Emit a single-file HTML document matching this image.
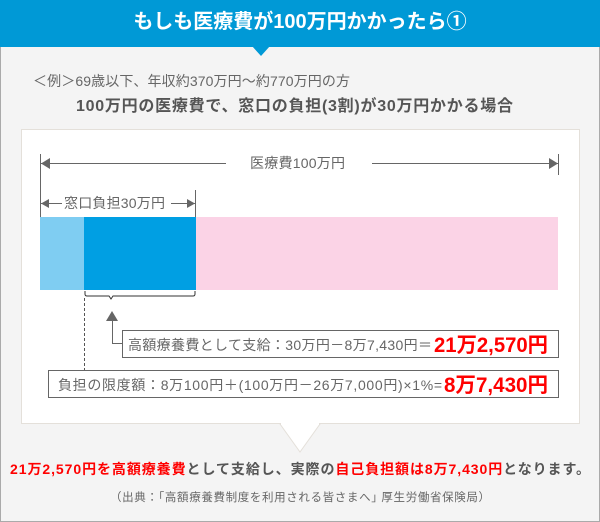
<!DOCTYPE html>
<html><head><meta charset="utf-8"><style>
body{margin:0;width:600px;height:522px;background:#f4f4f4;font-family:"Liberation Sans","Noto Sans CJK JP",sans-serif;position:relative;overflow:hidden}
.a{position:absolute;white-space:nowrap}
text{font-family:"Liberation Sans","Noto Sans CJK JP",sans-serif}
</style></head><body>
<div class="a" style="left:0;top:0;width:600px;height:522px;border:1px solid #aaa;border-top:none;box-sizing:border-box"></div>
<div class="a" style="left:0;top:0;width:600px;height:47px;background:#0099d6"></div>
<div class="a" style="left:252px;top:46px;width:0;height:0;border-left:9px solid transparent;border-right:9px solid transparent;border-top:10px solid #0099d6"></div>
<div class="a" style="left:0;top:8px;width:600px;text-align:center;color:#fff;font-weight:bold;font-size:20px;line-height:28px">もしも医療費が100万円かかったら①</div>
<svg class="a" style="left:0;top:0" width="600" height="522">
<text x="33" y="86" font-size="14" fill="#666" textLength="317" lengthAdjust="spacing">＜例＞69歳以下、年収約370万円～約770万円の方</text>
<text x="76" y="111" font-size="16" font-weight="bold" fill="#555" textLength="437" lengthAdjust="spacing">100万円の医療費で、窓口の負担(3割)が30万円かかる場合</text>
<rect x="21.5" y="129.5" width="558" height="294" fill="#fff" stroke="#e4e0da"/>
<polygon points="280,424 320,424 300,452" fill="#fff" stroke="#e4e0da"/>
<line x1="281" y1="424" x2="319" y2="424" stroke="#fff" stroke-width="2"/>
<g stroke="#666" fill="#666">
<line x1="40.5" y1="154" x2="40.5" y2="217"/>
<line x1="558.5" y1="154" x2="558.5" y2="175"/>
<line x1="40" y1="163.5" x2="226" y2="163.5"/>
<line x1="372" y1="163.5" x2="558" y2="163.5"/>
<polygon points="41,163.5 50,158 50,169" stroke="none"/>
<polygon points="558,163.5 549,158 549,169" stroke="none"/>
<line x1="195.5" y1="190" x2="195.5" y2="217"/>
<line x1="40" y1="203.5" x2="62" y2="203.5"/>
<line x1="171" y1="203.5" x2="195" y2="203.5"/>
<polygon points="41,203.5 49,199 49,208" stroke="none"/>
<polygon points="195,203.5 187,199 187,208" stroke="none"/>
</g>
<text x="250" y="168" font-size="14" fill="#666" textLength="95" lengthAdjust="spacing">医療費100万円</text>
<text x="64" y="208" font-size="14" fill="#666" textLength="101" lengthAdjust="spacing">窓口負担30万円</text>
<rect x="40" y="217" width="44" height="73" fill="#7fcdf2"/>
<rect x="84" y="217" width="112" height="73" fill="#009fe3"/>
<rect x="196" y="217" width="362" height="73" fill="#fbd3e6"/>
<path d="M85,291 v3 q0,2 2,2 h22 l2,3 l2,-3 h80 q2,0 2,-2 v-3" fill="none" stroke="#333"/>
<line x1="84.5" y1="298" x2="84.5" y2="370" stroke="#555" stroke-dasharray="3,2"/>
<polygon points="106,321 118,321 112,311" fill="#666"/>
<path d="M112.5,321 V343.5 H122" fill="none" stroke="#666"/>
<rect x="122.5" y="330.5" width="436" height="27" fill="#fff" stroke="#666"/>
<rect x="48.5" y="370.5" width="510" height="27" fill="#fff" stroke="#666"/>
<text x="128" y="350" font-size="14" fill="#666" textLength="304" lengthAdjust="spacing">高額療養費として支給：30万円－8万7,430円＝</text>
<text x="434" y="352" font-size="21" font-weight="bold" fill="#f00" textLength="114" lengthAdjust="spacingAndGlyphs">21万2,570円</text>
<text x="58" y="390" font-size="14" fill="#666" textLength="384" lengthAdjust="spacing">負担の限度額：8万100円＋(100万円－26万7,000円)×1%=</text>
<text x="444" y="392" font-size="21" font-weight="bold" fill="#f00" textLength="104" lengthAdjust="spacingAndGlyphs">8万7,430円</text>
<text x="10" y="474" font-size="14" font-weight="bold" fill="#555" textLength="580" lengthAdjust="spacing"><tspan fill="#f00">21万2,570円を高額療養費</tspan>として支給し、実際の<tspan fill="#f00">自己負担額は8万7,430円</tspan>となります。</text>
<text x="110" y="501" font-size="11.5" fill="#666" textLength="380" lengthAdjust="spacing">（出典：｢高額療養費制度を利用される皆さまへ｣ 厚生労働省保険局）</text>
</svg>
</body></html>
